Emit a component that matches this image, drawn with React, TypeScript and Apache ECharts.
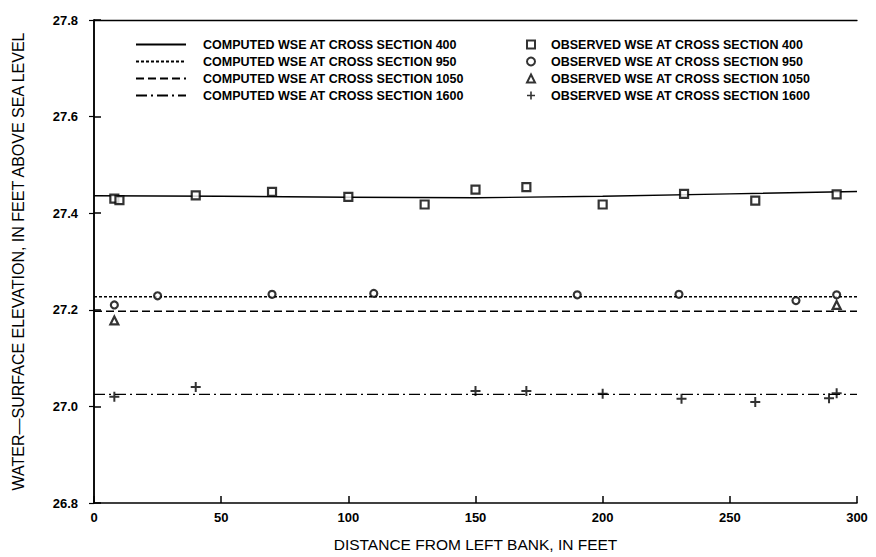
import { useEffect, useRef } from "react";
import * as echarts from "echarts";

// Computed water-surface profiles (distance in feet, elevation in feet)
const computedDistance = [0, 50, 100, 150, 200, 250, 300];
const computed400 = [27.436, 27.435, 27.433, 27.432, 27.435, 27.44, 27.445];
const computed950 = [27.227, 27.227, 27.227, 27.227, 27.227, 27.227, 27.227];
const computed1050 = [27.197, 27.197, 27.197, 27.197, 27.197, 27.197, 27.197];
const computed1600 = [27.025, 27.025, 27.025, 27.025, 27.025, 27.025, 27.025];

// Observed water-surface elevations
const obsDistance400 = [8, 10, 40, 70, 100, 130, 150, 170, 200, 232, 260, 292];
const observed400 = [27.43, 27.427, 27.437, 27.444, 27.434, 27.418, 27.449, 27.454, 27.418, 27.44, 27.426, 27.439];
const obsDistance950 = [8, 25, 70, 110, 190, 230, 276, 292];
const observed950 = [27.21, 27.229, 27.232, 27.234, 27.231, 27.232, 27.219, 27.231];
const obsDistance1050 = [8, 292];
const observed1050 = [27.178, 27.21];
const obsDistance1600 = [8, 40, 150, 170, 200, 231, 260, 289, 292];
const observed1600 = [27.02, 27.04, 27.032, 27.032, 27.026, 27.016, 27.009, 27.017, 27.027];

const xTicks = [0, 50, 100, 150, 200, 250, 300];
const yTicks = [26.8, 27.0, 27.2, 27.4, 27.6, 27.8];

const computedNames = [
  "COMPUTED WSE AT CROSS SECTION 400",
  "COMPUTED WSE AT CROSS SECTION 950",
  "COMPUTED WSE AT CROSS SECTION 1050",
  "COMPUTED WSE AT CROSS SECTION 1600",
];
const observedNames = [
  "OBSERVED WSE AT CROSS SECTION 400",
  "OBSERVED WSE AT CROSS SECTION 950",
  "OBSERVED WSE AT CROSS SECTION 1050",
  "OBSERVED WSE AT CROSS SECTION 1600",
];

const FONT = "Liberation Sans";
const INK = "#000";

const pairs = (xs: number[], ys: number[]) => xs.map((x, i) => [x, ys[i]]);

const plusPath = "path://M4,0H6V4H10V6H6V10H4V6H0V4H4Z";

export default function App() {
  const ref = useRef<HTMLDivElement>(null);

  useEffect(() => {
    if (!ref.current) return;
    const chart = echarts.init(ref.current, null, { renderer: "svg" });

    const lineSeries = (name: string, ys: number[], type: any) => ({
      name,
      type: "line",
      data: pairs(computedDistance, ys),
      symbol: "none",
      lineStyle: { color: INK, width: 1.4, type },
      itemStyle: { color: INK },
      z: 2,
    });

    const scatterSeries = (
      name: string,
      xs: number[],
      ys: number[],
      symbol: string,
      size: number,
      filled: boolean
    ) => ({
      name,
      type: "scatter",
      data: pairs(xs, ys),
      symbol,
      symbolSize: size,
      itemStyle: filled
        ? { color: INK, borderWidth: 0 }
        : { color: "#fff", borderColor: INK, borderWidth: 2.2 },
      z: 3,
    });

    const legendText = {
      fontFamily: FONT,
      fontWeight: "bold" as const,
      fontSize: 12.5,
      color: INK,
      lineHeight: 12,
    };

    chart.setOption({
      animation: false,
      backgroundColor: "#fff",
      grid: { left: 94, right: 19, top: 20, bottom: 54 },
      legend: [
        {
          data: computedNames,
          orient: "vertical",
          left: 130,
          top: 33,
          itemWidth: 50,
          itemHeight: 12,
          itemGap: 4,
          itemStyle: { color: "rgba(0,0,0,0)", borderWidth: 0 },
          textStyle: { ...legendText, padding: [0, 0, 0, 12] },
        },
        {
          data: observedNames,
          orient: "vertical",
          left: 521,
          top: 33,
          itemWidth: 8,
          itemHeight: 8,
          itemGap: 4,
          textStyle: { ...legendText, padding: [0, 0, 0, 11] },
        },
      ],
      xAxis: [
        {
          type: "value",
          min: xTicks[0],
          max: xTicks[xTicks.length - 1],
          interval: 50,
          name: "DISTANCE FROM LEFT BANK, IN FEET",
          nameLocation: "middle",
          nameGap: 33,
          nameTextStyle: { fontFamily: FONT, fontSize: 15.5, color: INK },
          axisLine: { show: true, lineStyle: { color: INK, width: 1.5 } },
          axisTick: { show: true, inside: true, length: 7, lineStyle: { color: INK, width: 1.5 } },
          axisLabel: {
            margin: 8,
            fontFamily: FONT,
            fontWeight: "bold",
            fontSize: 13,
            color: INK,
          },
          splitLine: { show: false },
        },
        {
          type: "value",
          position: "top",
          min: xTicks[0],
          max: xTicks[xTicks.length - 1],
          axisLine: { show: true, lineStyle: { color: INK, width: 1.3 } },
          axisTick: { show: false },
          axisLabel: { show: false },
          splitLine: { show: false },
        },
      ],
      yAxis: [
        {
          type: "value",
          min: yTicks[0],
          max: yTicks[yTicks.length - 1],
          interval: 0.2,
          name: "WATER—SURFACE ELEVATION, IN FEET ABOVE SEA LEVEL",
          nameLocation: "middle",
          nameGap: 68,
          nameTextStyle: { fontFamily: FONT, fontSize: 16, color: INK },
          axisLine: { show: true, lineStyle: { color: INK, width: 1.5 } },
          axisTick: { show: true, inside: true, length: 7, lineStyle: { color: INK, width: 1.5 } },
          axisLabel: {
            margin: 16,
            fontFamily: FONT,
            fontWeight: "bold",
            fontSize: 13,
            color: INK,
            formatter: (v: number) => v.toFixed(1),
          },
          splitLine: { show: false },
        },
        {
          type: "value",
          position: "right",
          min: yTicks[0],
          max: yTicks[yTicks.length - 1],
          interval: 0.2,
          axisLine: { show: true, lineStyle: { color: INK, width: 1.5 } },
          axisTick: { show: true, inside: true, length: 5, lineStyle: { color: INK, width: 1.2 } },
          axisLabel: { show: false },
          splitLine: { show: false },
        },
      ],
      series: [
        lineSeries(computedNames[0], computed400, "solid"),
        lineSeries(computedNames[1], computed950, [3, 2]),
        lineSeries(computedNames[2], computed1050, [8, 4]),
        lineSeries(computedNames[3], computed1600, [11, 4, 2, 4]),
        scatterSeries(observedNames[0], obsDistance400, observed400, "rect", 8, false),
        scatterSeries(observedNames[1], obsDistance950, observed950, "circle", 7, false),
        scatterSeries(observedNames[2], obsDistance1050, observed1050, "triangle", 8, false),
        scatterSeries(observedNames[3], obsDistance1600, observed1600, plusPath, 10, true),
      ],
    });

    return () => chart.dispose();
  }, []);

  return (
    <div
      ref={ref}
      style={{ position: "absolute", left: 0, top: 0, width: 876, height: 557, background: "#fff" }}
    />
  );
}
